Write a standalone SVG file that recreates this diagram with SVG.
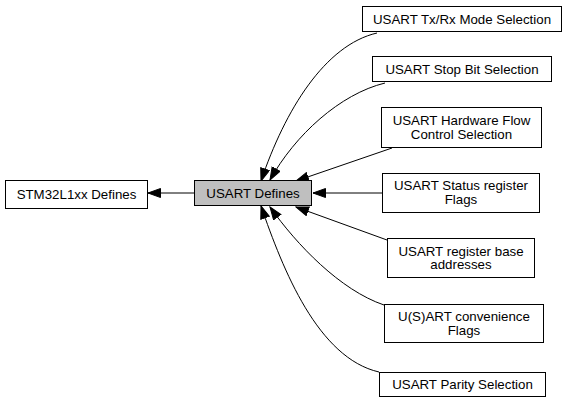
<svg xmlns="http://www.w3.org/2000/svg" width="568" height="401" viewBox="0 0 568 401">
<defs>
<marker id="arr" markerUnits="userSpaceOnUse" markerWidth="14" markerHeight="11" refX="13" refY="5" orient="auto">
<path d="M0.5,0.5 L13,5 L0.5,9.5 z" fill="#000" stroke="#000" stroke-width="1"/>
</marker>
</defs>
<style>
.box{fill:#fff;stroke:#000;stroke-width:1}
.cur{fill:#bfbfbf;stroke:#000;stroke-width:1}
text{font-family:"Liberation Sans",Arial,sans-serif;font-size:13.3px;fill:#000;text-anchor:middle}
.e{fill:none;stroke:#000;stroke-width:1;marker-end:url(#arr)}
</style>
<rect width="568" height="401" fill="#fff"/>
<g id="edges">
<path class="e" d="M194,193 L148,193"/>
<path class="e" d="M377,33 C325,45 285,110 261,181"/>
<path class="e" d="M385,83 C340,94 295,135 270,180"/>
<path class="e" d="M392,148 L296,181"/>
<path class="e" d="M382,193 L313,193"/>
<path class="e" d="M387,240 L296,207"/>
<path class="e" d="M384,305 C340,290 297,245 270,207"/>
<path class="e" d="M379,372 C318,358 283,270 261,206"/>
</g>
<g id="stm32">
<rect class="box" x="5.5" y="180.5" width="142" height="28"/>
<text x="76.5" y="199">STM32L1xx Defines</text>
</g>
<g id="usart">
<rect class="cur" x="194.5" y="180.5" width="117" height="25"/>
<text x="253" y="198">USART Defines</text>
</g>
<g id="txrx">
<rect class="box" x="362.5" y="6.5" width="199" height="25"/>
<text x="462" y="24">USART Tx/Rx Mode Selection</text>
</g>
<g id="stopbit">
<rect class="box" x="372.5" y="56.5" width="179" height="25"/>
<text x="462" y="74">USART Stop Bit Selection</text>
</g>
<g id="hwflow">
<rect class="box" x="381.5" y="107.5" width="160" height="40"/>
<text x="461.5" y="124.5">USART Hardware Flow</text>
<text x="461.5" y="138.5">Control Selection</text>
</g>
<g id="status">
<rect class="box" x="382.5" y="173.5" width="157" height="39"/>
<text x="461" y="190">USART Status register</text>
<text x="461" y="204">Flags</text>
</g>
<g id="regbase">
<rect class="box" x="387.5" y="238.5" width="147" height="39"/>
<text x="461" y="255.5">USART register base</text>
<text x="461" y="269">addresses</text>
</g>
<g id="conv">
<rect class="box" x="384.5" y="304.5" width="159" height="38"/>
<text x="464" y="321">U(S)ART convenience</text>
<text x="464" y="334.5">Flags</text>
</g>
<g id="parity">
<rect class="box" x="379.5" y="372.5" width="166" height="24"/>
<text x="462.5" y="389">USART Parity Selection</text>
</g>
</svg>
